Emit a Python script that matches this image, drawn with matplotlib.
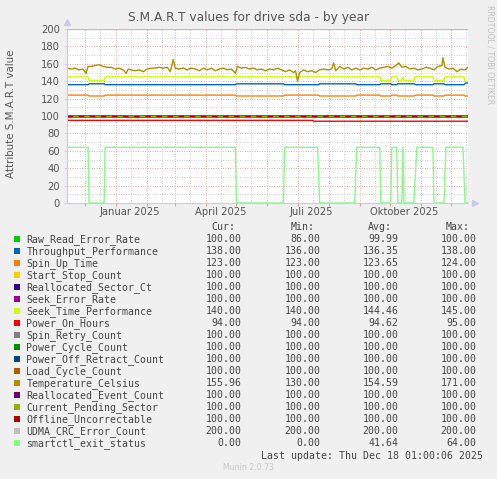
import numpy as np
import matplotlib
matplotlib.use("Agg")
import matplotlib.pyplot as plt
import matplotlib.dates as mdates
from matplotlib.patches import Rectangle

# figure size in pixels
W, H = 497, 479

# time axis: 400 days ending at last update
start = np.datetime64("2024-11-13T01:00")
end = np.datetime64("2025-12-18T01:00")

# legend / series info
names = ["Raw_Read_Error_Rate", "Throughput_Performance", "Spin_Up_Time",
         "Start_Stop_Count", "Reallocated_Sector_Ct", "Seek_Error_Rate",
         "Seek_Time_Performance", "Power_On_Hours", "Spin_Retry_Count",
         "Power_Cycle_Count", "Power_Off_Retract_Count", "Load_Cycle_Count",
         "Temperature_Celsius", "Reallocated_Event_Count", "Current_Pending_Sector",
         "Offline_Uncorrectable", "UDMA_CRC_Error_Count", "smartctl_exit_status"]
colors = ["#00CC00", "#0066B3", "#FF8000", "#FFCC00", "#330099", "#990099",
          "#CCFF00", "#FF0000", "#808080", "#008F00", "#00487D", "#B35A00",
          "#B38F00", "#6B006B", "#8FB300", "#B30000", "#BEBEBE", "#80FF80"]
cur_vals = [100, 138, 123, 100, 100, 100, 140, 94, 100, 100, 100, 100, 155.96, 100, 100, 100, 200, 0]
min_vals = [86, 136, 123, 100, 100, 100, 140, 94, 100, 100, 100, 100, 130, 100, 100, 100, 200, 0]
avg_vals = [99.99, 136.35, 123.65, 100, 100, 100, 144.46, 94.62, 100, 100, 100, 100, 154.59, 100, 100, 100, 200, 41.64]
max_vals = [100, 138, 124, 100, 100, 100, 145, 95, 100, 100, 100, 100, 171, 100, 100, 100, 200, 64]

# series (day offset from start, value)
raw_days = [0, 18, 19, 20, 57, 59, 62, 64, 67, 70, 73, 76, 78, 97, 98, 99, 339, 340, 341, 400]
raw_vals = [100, 100, 98.5, 100, 100, 98.3, 99, 98, 99.2, 98.2, 99, 98.6, 100, 100, 98.8, 100, 100, 99, 100, 100]

thr_days = [0, 21, 22, 37, 38, 168, 169, 216, 217, 251, 252, 288, 289, 312, 313, 323, 324, 329, 330,
            346, 348, 365, 366, 376, 377, 396, 398, 400]
thr_vals = [136, 136, 137, 137, 136, 136, 137, 137, 136, 136, 137, 137, 136, 136, 137, 137, 136, 136, 137,
            137, 136, 136, 137, 137, 136, 136, 138, 138]

spin_days = [0, 21, 22, 37, 38, 168, 169, 216, 217, 251, 252, 288, 289, 312, 313, 323, 324, 329, 330,
             346, 348, 365, 366, 376, 377, 396, 397, 400]
spin_vals = [124, 124, 123, 123, 124, 124, 123, 123, 124, 124, 123, 123, 124, 124, 123, 123, 124, 124, 123,
             123, 124, 124, 123, 123, 124, 124, 123, 123]

seek_days = [0, 21, 22, 37, 38, 312, 313, 323, 324, 329, 330, 334, 335, 336, 346, 347, 365, 366,
             376, 377, 396, 397, 400]
seek_vals = [145, 145, 141, 141, 145, 145, 141, 141, 145, 145, 141, 141, 145, 141, 141, 145, 145, 141,
             141, 145, 145, 140, 140]

poh_days = [0, 245, 246, 400]
poh_vals = [95, 95, 94, 94]

temp_days = [0, 4, 8, 12, 16, 19, 21, 24, 28, 32, 36, 40, 44, 48, 52, 56, 59, 61, 64, 68, 72, 76, 80,
             84, 88, 92, 96, 100, 103, 106, 108, 112, 116, 120, 124, 128, 132, 136, 140, 144, 148,
             152, 156, 160, 164, 168, 170, 174, 178, 182, 186, 190, 194, 198, 202, 206, 210, 214,
             218, 222, 226, 228, 230, 232, 236, 240, 244, 248, 252, 256, 260, 264, 266, 268, 272,
             276, 280, 284, 288, 292, 296, 300, 304, 308, 312, 316, 320, 324, 328, 331, 334, 338,
             342, 346, 350, 354, 358, 362, 366, 370, 374, 375, 377, 381, 385, 389, 393, 397, 400]
temp_vals = [155, 154, 155, 153, 154, 149, 157, 157, 158, 159, 157, 156, 156, 154, 155, 153, 149, 154,
             153, 152, 153, 151, 154, 155, 155, 156, 155, 156, 151, 165, 155, 154, 155, 153, 155, 154,
             152, 155, 153, 155, 152, 154, 155, 153, 154, 149, 157, 155, 156, 154, 155, 153, 154, 152,
             154, 153, 155, 153, 151, 153, 150, 152, 140, 150, 153, 151, 152, 150, 153, 154, 153, 154,
             161, 152, 157, 154, 156, 153, 155, 153, 155, 154, 156, 153, 155, 156, 157, 155, 158, 161,
             156, 157, 154, 155, 153, 154, 156, 155, 153, 157, 158, 167, 156, 154, 155, 151, 154, 153,
             156]

smart_days = [0, 21, 22, 37, 38, 168, 169, 216, 217, 250, 252, 287, 289, 312, 313, 323, 324, 329, 330,
              334, 335, 336, 346, 349, 365, 366, 376, 378, 395, 397, 400]
smart_vals = [64, 64, 0, 0, 64, 64, 0, 0, 64, 64, 0, 0, 64, 64, 0, 0, 64, 64, 0,
              0, 64, 0, 0, 64, 64, 0, 0, 64, 64, 0, 0]

flat_days = [0, 400]

month_labels = ["Januar 2025", "April 2025", "Juli 2025", "Oktober 2025"]
month_label_dates = ["2025-01-15", "2025-04-15", "2025-07-15", "2025-10-15"]


def to_dates(days):
    return (start + (np.array(days) * 24 * 60).astype("timedelta64[m]")).astype("datetime64[s]").astype(object)


def fx(x):
    return x / W


def fy(y):
    return 1 - y / H


bg = "#F0F0F0"
fig = plt.figure(figsize=(W / 100, H / 100), dpi=100, facecolor=bg)
ax = fig.add_axes([fx(67), fy(203), 401 / W, 174 / H])
ax.set_facecolor("white")

t0 = start.astype("datetime64[s]").astype(object)
t1 = end.astype("datetime64[s]").astype(object)
ax.set_xlim(t0, t1)
ax.set_ylim(0, 200)

# grid
dot = (0, (1, 1.5))
for v in range(10, 200, 20):
    ax.axhline(v, color="#D0D0D0", lw=0.7, ls=dot, zorder=0)
for v in range(20, 201, 20):
    ax.axhline(v, color="#F0A8A8", lw=0.7, ls=dot, zorder=0)
months = np.arange(np.datetime64("2024-12"), np.datetime64("2026-01"), np.timedelta64(1, "M"))
for m in months:
    mid = (m.astype("datetime64[D]") + np.timedelta64(15, "D")).astype("datetime64[s]").astype(object)
    if mid < t1:
        ax.axvline(mid, color="#D0D0D0", lw=0.7, ls=dot, zorder=0)
    ax.axvline(m.astype("datetime64[s]").astype(object), color="#F0A8A8", lw=0.7, ls=dot, zorder=0)

lw = 1.0
series = {
    0: (raw_days, raw_vals),
    1: (thr_days, thr_vals),
    2: (spin_days, spin_vals),
    6: (seek_days, seek_vals),
    7: (poh_days, poh_vals),
    12: (temp_days, temp_vals),
    17: (smart_days, smart_vals),
}
for i, name in enumerate(names):
    if i in series:
        d, v = series[i]
    else:
        d, v = flat_days, [cur_vals[i]] * 2
    kw = {}
    if name == "Offline_Uncorrectable":
        kw = dict(dashes=(4, 4))
    ax.plot(to_dates(d), v, color=colors[i], lw=lw, zorder=2, **kw)

# axes look
for s in ["top", "right"]:
    ax.spines[s].set_visible(False)
for s in ["left", "bottom"]:
    ax.spines[s].set_color("#C8C8F0")
    ax.spines[s].set_linewidth(0.8)
ax.plot([0], [1.04], marker="^", color="#C8C8F0", ms=4, transform=ax.transAxes, clip_on=False)
ax.plot([1.018], [0], marker=">", color="#C8C8F0", ms=4, transform=ax.transAxes, clip_on=False)

ax.set_yticks(range(0, 201, 20))
ax.set_yticklabels([str(v) for v in range(0, 201, 20)])
ax.tick_params(axis="y", length=2, width=0.6, color="#C8C8F0", labelsize=7.2, labelcolor="#555555", pad=3)
ax.set_xticks([m.astype("datetime64[s]").astype(object) for m in months])
ax.set_xticklabels([])
ax.tick_params(axis="x", length=2, width=0.6, color="#E08080")
for lab, d in zip(month_labels, month_label_dates):
    ax.text(np.datetime64(d).astype("datetime64[s]").astype(object), -5, lab, ha="center", va="top",
            fontsize=7.2, color="#555555")

# titles
fig.text(0.5, fy(18), "S.M.A.R.T values for drive sda - by year", ha="center", va="center",
         fontsize=8.8, color="#555555")
fig.text(fx(11), fy(114), "Attribute S.M.A.R.T value", rotation=90, ha="center", va="center",
         fontsize=7.4, color="#555555")
fig.text(fx(490), fy(5), "RRDTOOL / TOBI OETIKER", rotation=270, ha="center", va="top",
         fontsize=5.6, color="#C0C0C0")

# legend table
mono = "DejaVu Sans Mono"
fs = 7.1
tc = "#444444"
col_right = [241.7, 320.7, 398.7, 476.7]
head_right = [235, 315, 392, 470]
for h, xr in zip(["Cur:", "Min:", "Avg:", "Max:"], head_right):
    fig.text(fx(xr), fy(227), h, ha="right", va="center", family=mono, fontsize=fs, color=tc)
for i, name in enumerate(names):
    yc = 239.3 + 12 * i
    fig.patches.append(Rectangle((fx(14), fy(yc + 3)), 6 / W, 6 / H, transform=fig.transFigure,
                                 facecolor=colors[i], edgecolor="none"))
    fig.text(fx(26.3), fy(yc), name, ha="left", va="center", family=mono, fontsize=fs, color=tc)
    for val, xr in zip([cur_vals[i], min_vals[i], avg_vals[i], max_vals[i]], col_right):
        fig.text(fx(xr), fy(yc), "%.2f" % val, ha="right", va="center", family=mono, fontsize=fs, color=tc)

fig.text(fx(482.7), fy(455.7), "Last update: Thu Dec 18 01:00:06 2025", ha="right", va="center",
         family=mono, fontsize=fs, color=tc)
fig.text(fx(248), fy(467.7), "Munin 2.0.73", ha="center", va="center", fontsize=5.6, color="#C8C8C8")

fig.savefig("out.png", dpi=100, facecolor=bg)
